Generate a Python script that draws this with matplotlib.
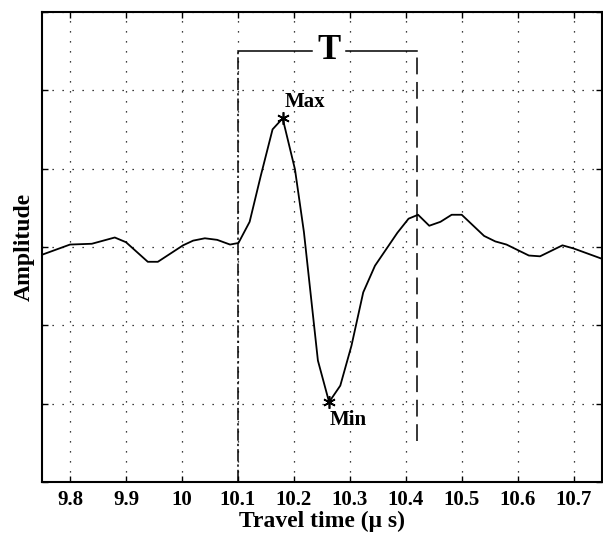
import matplotlib
matplotlib.use("Agg")
import matplotlib.pyplot as plt

# waveform samples (time in microseconds, amplitude in grid units)
time_us = [9.750, 9.800, 9.839, 9.880, 9.900, 9.939, 9.957, 10.002, 10.020, 10.041,
           10.063, 10.086, 10.101, 10.121, 10.141, 10.162, 10.180, 10.202, 10.218,
           10.243, 10.263, 10.283, 10.303, 10.324, 10.345, 10.365, 10.385, 10.405,
           10.422, 10.442, 10.462, 10.482, 10.500, 10.540, 10.560, 10.580, 10.620,
           10.640, 10.680, 10.700, 10.750]
amplitude = [-0.10, 0.03, 0.04, 0.12, 0.06, -0.19, -0.19, 0.02, 0.08, 0.11,
             0.09, 0.03, 0.05, 0.32, 0.91, 1.50, 1.64, 0.99, 0.19,
             -1.45, -1.98, -1.77, -1.26, -0.58, -0.24, -0.03, 0.18, 0.36,
             0.41, 0.27, 0.32, 0.41, 0.41, 0.14, 0.07, 0.03, -0.11,
             -0.12, 0.02, -0.02, -0.15]

max_pt = (10.180, 1.64)
min_pt = (10.263, -1.98)
t_start = 10.10
t_end = 10.42
bracket_y = 2.5
gap = (10.232, 10.294)

xticks = [9.8, 9.9, 10.0, 10.1, 10.2, 10.3, 10.4, 10.5, 10.6, 10.7]
xtick_labels = ["9.8", "9.9", "10", "10.1", "10.2", "10.3", "10.4", "10.5", "10.6", "10.7"]
yticks = [-3, -2, -1, 0, 1, 2, 3]

plt.rcParams['font.family'] = ['Liberation Serif', 'DejaVu Serif']
plt.rcParams['font.weight'] = 'bold'

fig = plt.figure(figsize=(6.03, 5.35), dpi=100)
ax = fig.add_axes([0.0697, 0.099, 0.928, 0.879])

ax.plot(time_us, amplitude, color='black', linewidth=1.3)
ax.plot(*max_pt, marker=(6, 2, 0), color='black', markersize=9, markeredgewidth=1.2)
ax.plot(*min_pt, marker=(6, 2, 0), color='black', markersize=9, markeredgewidth=1.2)
ax.text(max_pt[0] + 0.003, max_pt[1] + 0.08, "Max", fontsize=15, fontweight='bold',
        ha='left', va='bottom')
ax.text(min_pt[0] + 0.001, min_pt[1] - 0.1, "Min", fontsize=15, fontweight='bold',
        ha='left', va='top')

# T window markers
ax.plot([t_start, t_start], [-3, bracket_y], color='black', linewidth=1.1,
        linestyle=(0, (8, 2, 1.5, 2)))
ax.plot([t_end, t_end], [-2.48, bracket_y], color='black', linewidth=1.1,
        linestyle=(0, (11, 5)))
ax.plot([t_start, gap[0]], [bracket_y, bracket_y], color='black', linewidth=1.1)
ax.plot([gap[1], t_end], [bracket_y, bracket_y], color='black', linewidth=1.1)
ax.text((gap[0] + gap[1]) / 2, bracket_y, "T", fontsize=25, fontweight='bold',
        ha='center', va='center')

ax.set_xlim(9.75, 10.75)
ax.set_ylim(-3, 3)
ax.set_xticks(xticks)
ax.set_xticklabels(xtick_labels)
ax.set_yticks(yticks)
ax.set_yticklabels([])
ax.tick_params(direction='in', length=4, width=1, top=True, right=True,
               labelsize=15, pad=6)
ax.grid(True, color='black', linestyle=(0, (1, 7)), linewidth=0.9)
for s in ax.spines.values():
    s.set_linewidth(1.5)

ax.set_xlabel("Travel time (\u03bc s)", fontsize=17, fontweight='bold', labelpad=0)
ax.set_ylabel("Amplitude", fontsize=17, fontweight='bold', labelpad=-1)

fig.savefig("out.png", dpi=100)
